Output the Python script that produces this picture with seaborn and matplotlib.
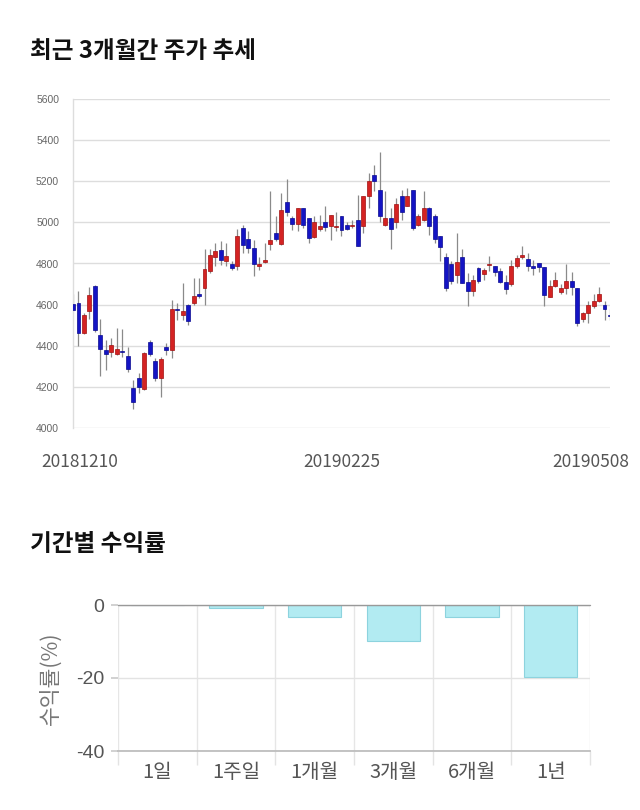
import matplotlib
matplotlib.use("Agg")
import matplotlib.pyplot as plt
import matplotlib.transforms as mtransforms
from matplotlib.ticker import FixedLocator
import numpy as np
import pandas as pd
import seaborn as sns

# ---------------- data ----------------
holidays = ["2018-12-25", "2018-12-31", "2019-01-01", "2019-02-04", "2019-02-05",
            "2019-02-06", "2019-03-01", "2019-05-01", "2019-05-06"]
dates = [d.strftime("%Y%m%d") for d in pd.bdate_range("2018-12-10", "2019-05-08")
         if d.strftime("%Y-%m-%d") not in holidays]

opens = [4604, 4607, 4461, 4567, 4692, 4451, 4378, 4370, 4360, 4375,
         4351, 4193, 4242, 4190, 4417, 4325, 4242, 4396, 4380, 4580,
         4550, 4599, 4610, 4651, 4680, 4765, 4830, 4867, 4810, 4799,
         4790, 4975, 4919, 4875, 4789, 4808, 4895, 4948, 4895, 5100,
         5020, 4994, 5070, 5020, 4927, 4969, 5000, 4984, 4979, 5030,
         4989, 4981, 5010, 4981, 5130, 5232, 5159, 4989, 5021, 5000,
         5130, 5078, 5159, 4989, 5010, 5070, 5030, 4935, 4830, 4800,
         4745, 4830, 4710, 4666, 4780, 4750, 4794, 4790, 4765, 4711,
         4700, 4786, 4830, 4821, 4789, 4802, 4781, 4635, 4692, 4659,
         4680, 4713, 4680, 4531, 4558, 4591, 4620, 4596, 4550]
closes = [4576, 4461, 4550, 4648, 4477, 4383, 4359, 4404, 4385, 4370,
          4287, 4125, 4198, 4364, 4360, 4242, 4335, 4380, 4580, 4575,
          4568, 4518, 4643, 4640, 4773, 4843, 4859, 4818, 4838, 4778,
          4932, 4891, 4875, 4799, 4799, 4818, 4916, 4919, 5058, 5049,
          4994, 5070, 4989, 4924, 5000, 4981, 4979, 5038, 4984, 4965,
          4968, 4989, 4886, 5130, 5200, 5200, 5030, 5021, 4968, 5091,
          5049, 5130, 4972, 5030, 5070, 4984, 4919, 4880, 4680, 4717,
          4805, 4705, 4666, 4720, 4717, 4766, 4797, 4761, 4709, 4674,
          4786, 4826, 4843, 4786, 4778, 4781, 4645, 4692, 4721, 4680,
          4713, 4684, 4513, 4558, 4599, 4620, 4652, 4580, 4545]
highs = [4650, 4664, 4560, 4685, 4697, 4529, 4428, 4440, 4485, 4480,
         4393, 4234, 4269, 4370, 4430, 4340, 4345, 4414, 4623, 4608,
         4706, 4605, 4729, 4729, 4870, 4870, 4899, 4909, 4899, 4810,
         4969, 4989, 4960, 4915, 4834, 4899, 5153, 5030, 5141, 5211,
         5030, 5070, 5070, 5020, 5030, 5038, 5079, 5038, 5052, 5030,
         5000, 5010, 5135, 5130, 5240, 5281, 5340, 5153, 5070, 5120,
         5159, 5167, 5159, 5040, 5153, 5075, 5040, 4935, 4851, 4810,
         4948, 4872, 4753, 4745, 4783, 4780, 4837, 4790, 4780, 4745,
         4818, 4840, 4886, 4851, 4815, 4802, 4781, 4721, 4757, 4700,
         4799, 4758, 4680, 4566, 4616, 4652, 4685, 4620, 4580]
lows = [4570, 4399, 4455, 4529, 4468, 4253, 4282, 4344, 4355, 4347,
        4271, 4091, 4169, 4185, 4350, 4230, 4152, 4355, 4341, 4526,
        4526, 4500, 4599, 4630, 4599, 4753, 4786, 4794, 4786, 4770,
        4769, 4851, 4850, 4737, 4769, 4802, 4867, 4909, 4891, 5033,
        4965, 4956, 4975, 4899, 4924, 4956, 4956, 4916, 4960, 4936,
        4965, 4975, 4886, 4948, 5070, 5151, 5000, 4981, 4870, 4974,
        5013, 5078, 4965, 4980, 5005, 4940, 4899, 4810, 4664, 4700,
        4706, 4705, 4591, 4643, 4705, 4720, 4763, 4740, 4705, 4653,
        4690, 4780, 4820, 4764, 4742, 4760, 4594, 4635, 4688, 4650,
        4650, 4648, 4497, 4515, 4513, 4585, 4615, 4523, 4526]

price_ticks = [4000, 4200, 4400, 4600, 4800, 5000, 5200, 5400, 5600]
date_tick_labels = ["20181210", "20190225", "20190508"]

periods = ["1일", "1주일", "1개월", "3개월", "6개월", "1년"]
returns = [0.0, -0.9, -3.2, -9.8, -3.2, -19.8]

# ---------------- style ----------------
sns.set_theme(style="white")
plt.rcParams["font.family"] = ["Noto Sans CJK KR", "DejaVu Sans"]
plt.rcParams["axes.unicode_minus"] = False

fig = plt.figure(figsize=(6.4, 8.1), dpi=100)
fig.patch.set_facecolor("white")

fig.text(30 / 640, 1 - 51 / 810, "최근 3개월간 주가 추세", fontsize=17,
         fontweight="bold", color="#111111", va="center", ha="left")
fig.text(30 / 640, 1 - 544 / 810, "기간별 수익률", fontsize=17,
         fontweight="bold", color="#111111", va="center", ha="left")

# ---------------- candlestick ----------------
ax = fig.add_axes([73 / 640, 1 - 428 / 810, (610 - 73) / 640, (428 - 99) / 810])
df = pd.DataFrame({"date": dates, "open": opens, "close": closes,
                   "high": highs, "low": lows})
df["x"] = np.arange(len(df))
up = df["close"] >= df["open"]
body_bottom = np.minimum(df["open"], df["close"])
body_h = np.maximum(np.abs(df["close"] - df["open"]), 5)
face = np.where(up, "#d42323", "#1414c4")
edge = np.where(up, "#a01010", "#0a0a90")

ax.vlines(df["x"], df["low"], df["high"], color="#8a8a8a", lw=0.9, zorder=2)
ax.bar(df["x"], body_h, bottom=body_bottom, width=0.72, color=face,
       edgecolor=edge, linewidth=0.5, zorder=3)

ax.set_xlim(0, len(df) - 1)
ax.set_ylim(4000, 5600)
ax.set_yticks(price_ticks)
ax.set_yticklabels([str(v) for v in price_ticks], family=["Liberation Sans"],
                   fontsize=7.5, color="#666666")
tick_idx = [dates.index(d) for d in date_tick_labels]
ax.set_xticks(tick_idx)
ax.set_xticklabels(date_tick_labels, fontsize=12.5, color="#555555")
ax.tick_params(axis="both", length=0)
ax.tick_params(axis="y", pad=10)
ax.tick_params(axis="x", pad=18)
ax.grid(axis="y", color="#dddddd", lw=1)
ax.grid(axis="x", visible=False)
for s in ["top", "right", "bottom"]:
    ax.spines[s].set_visible(False)
ax.spines["left"].set_color("#dddddd")
ax.spines["left"].set_linewidth(1)
ax.set_facecolor("white")
# keep the edge labels inside the canvas
shifts = [7, 0, -19]
for lab, dx in zip(ax.get_xticklabels(), shifts):
    lab.set_transform(lab.get_transform() +
                      mtransforms.ScaledTranslation(dx / 100, 0, fig.dpi_scale_trans))

# ---------------- returns bar chart ----------------
ax2 = fig.add_axes([118 / 640, 1 - 751 / 810, (590 - 118) / 640, (751 - 605) / 810])
rdf = pd.DataFrame({"period": periods, "ret": returns})
sns.barplot(data=rdf, x="period", y="ret", order=periods, color="#b2ebf2",
            saturation=1, edgecolor="#8dd3de", linewidth=0.8, width=0.68, ax=ax2)
ax2.set_xlim(-0.5, len(periods) - 0.5)
ax2.set_ylim(-40, 0)
ax2.set_yticks([0, -20, -40])
ax2.set_yticklabels(["0", "-20", "-40"], family=["Liberation Sans"],
                    fontsize=14, color="#555555")
ax2.set_xlabel("")
ax2.set_ylabel("수익률(%)", fontsize=15.5, color="#777777", labelpad=10)
ax2.tick_params(axis="x", which="major", length=0, labelsize=14.5,
                labelcolor="#555555", pad=8)
ax2.xaxis.set_minor_locator(FixedLocator(np.arange(-0.5, len(periods), 1.0)))
ax2.tick_params(axis="x", which="minor", length=10, color="#e3e3e3", width=1,
                bottom=True)
ax2.tick_params(axis="y", length=5, color="#cccccc", pad=5, left=True)
ax2.grid(axis="x", which="minor", color="#e6e6e6", lw=1)
ax2.grid(axis="x", which="major", visible=False)
ax2.grid(axis="y", color="#e3e3e3", lw=1)
for s in ["top", "right", "left"]:
    ax2.spines[s].set_visible(False)
ax2.spines["bottom"].set_color("#bbbbbb")
ax2.axhline(0, color="#999999", lw=1, zorder=4, clip_on=False)
ax2.set_facecolor("white")

fig.savefig("out.png", dpi=100, facecolor="white")
